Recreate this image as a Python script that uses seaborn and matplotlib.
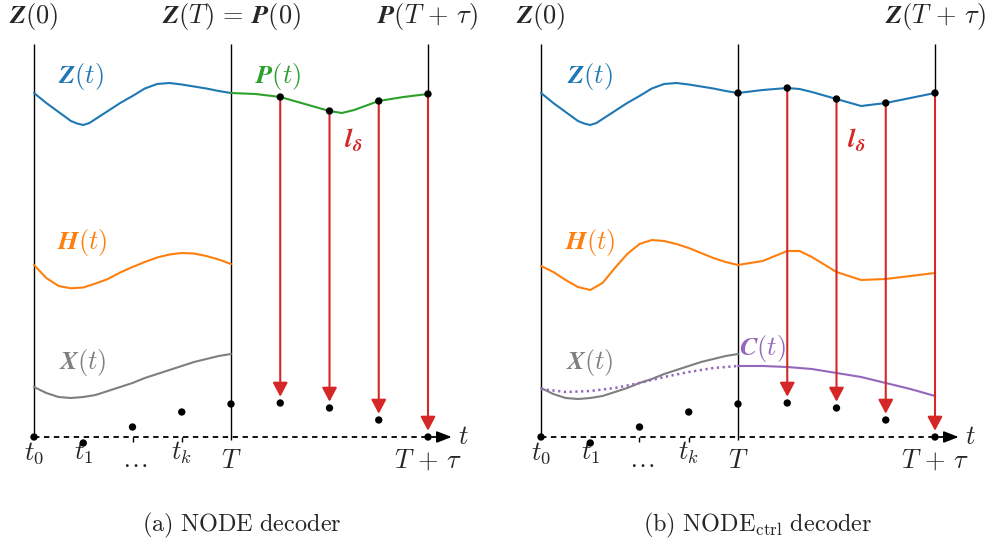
import matplotlib
matplotlib.use("Agg")
import matplotlib.pyplot as plt
import seaborn as sns

# Time grid in sample units: t0 = 0, t1 = 1, ..., T = 4, T + tau = 8
# Heights are measured upwards from the time axis
t_hist = [0, 0.25, 0.5, 0.75, 1, 1.25, 1.5, 1.75, 2, 2.25, 2.5, 2.75, 3, 3.25, 3.5, 3.75, 4]
t_z = [0, 0.25, 0.5, 0.75, 0.875, 1, 1.125, 1.25, 1.5, 1.75, 2, 2.25, 2.5, 2.75, 3, 3.25,
       3.5, 3.75, 4]
z_hist = [344, 334, 325, 316, 313.5, 312, 314, 318, 326, 334, 341, 348.5, 353, 354, 352.5,
          350.5, 348.5, 346, 344]
h_hist_a = [172, 159, 151, 148.7, 149.5, 153.5, 158, 164.5, 170, 175, 179.5, 182.5, 184, 183.5,
            181, 177.5, 173]
x_hist_a = [50, 44, 40, 39, 40, 42, 46, 50, 54, 59, 63, 67, 71, 75, 78, 81, 83]

# (a) NODE decoder: P(t) after T
t_pred = [4, 4.5, 5, 5.5, 6, 6.25, 6.5, 7, 7.5, 8]
p_pred = [344, 343, 340, 333, 326, 324, 327, 336, 340, 343]
p_dot_t = [5, 6, 7, 8]
p_dot_y = [340, 326, 336, 343]

# (b) NODE_ctrl decoder: Z(t) and H(t) go on to T + tau
t_z_full = t_z + [4.5, 5, 5.25, 5.5, 6, 6.5, 7, 7.5, 8]
z_full = z_hist + [347, 349, 348, 345, 338, 331, 334, 339, 344]
t_full = t_hist + [4.5, 5, 5.25, 5.5, 6, 6.5, 7, 7.5, 8]
h_full = [171, 165, 157, 150, 147, 154, 169, 183, 193, 197, 196, 193, 189, 184, 179, 175, 172,
          176, 186, 186, 180, 165, 157, 158, 161, 164]
x_hist_b = [49, 43, 39, 38, 39, 41, 45, 49, 54, 58, 63, 67, 71, 75, 78, 81, 83]
c_t_hist = [0, 0.5, 1, 1.5, 2, 2.5, 3, 3.5, 4]
c_hist = [48, 45, 46, 49, 54, 60, 65, 69, 71]
c_t_pred = [4, 4.5, 5, 5.5, 6, 6.5, 7, 7.5, 8]
c_pred = [71, 71, 70, 68, 64, 60, 54, 48, 41]
z_dot_t = [4, 5, 6, 7, 8]
z_dot_y = [344, 349, 338, 334, 344]

# observations on the time axis
obs_t = [0, 1, 2, 3, 4, 5, 6, 7, 8]
obs_y = [0, -6, 10, 25, 33, 34, 29, 17, 0]
pred_t = [5, 6, 7, 8]

BLUE, ORANGE, GREEN = "#1f77b4", "#ff7f0e", "#2ca02c"
RED, PURPLE, GREY = "#d62728", "#9467bd", "#7f7f7f"
FS = 19
LW = 1.5

sns.set_theme(style="white")
plt.rcParams["mathtext.fontset"] = "cm"

fig = plt.figure(figsize=(9.87, 5.42), dpi=100)
ax_a = fig.add_axes([0, 0, 0.5, 1])
ax_b = fig.add_axes([0.5, 0, 0.5, 1])


def draw_frame(ax, x0_px):
    """Common skeleton: axis lines, time axis, observations and tick labels."""
    ax.set_xlim(-x0_px / 49.25, (493.5 - x0_px) / 49.25)
    ax.set_ylim(-105, 437)
    ax.axis("off")

    # vertical lines at t0 and T
    ax.vlines([0], 0, 393, color="black", lw=1.0)
    ax.vlines([4], -3, 393, color="black", lw=1.0)

    # dashed time axis with arrow head
    sns.lineplot(x=[0, 8.25], y=[0, 0], ax=ax, color="black", lw=1.3,
                 linestyle=(0, (3, 2.5)), estimator=None)
    ax.annotate("", xy=(8.48, 0), xytext=(8.2, 0),
                arrowprops=dict(arrowstyle="-|>,head_length=0.9,head_width=0.35",
                                color="black", lw=1.2, shrinkA=0, shrinkB=0,
                                mutation_scale=10))
    ax.text(8.72, 0, r"$t$", fontsize=FS, ha="center", va="center")
    ax.vlines([2, 3], -5, 0, color="black", lw=1.0)

    sns.scatterplot(x=obs_t, y=obs_y, ax=ax, color="black", s=28,
                    edgecolor="none", zorder=6, legend=False)

    # labels under the axis
    for t, lab, base in [(0, r"$t_0$", -23), (1, r"$t_1$", -23), (2, r"$\dots$", -30),
                         (3, r"$t_k$", -23), (4, r"$T$", -31), (8, r"$T\,+\,\tau$", -31)]:
        ax.text(t, base, lab, fontsize=FS, ha="center", va="baseline")


def draw_arrows(ax, tops):
    for t, top, bot in zip(pred_t, tops, obs_y[5:]):
        ax.annotate("", xy=(t, bot), xytext=(t, top),
                    arrowprops=dict(arrowstyle="-|>,head_length=0.85,head_width=0.45",
                                    color=RED, lw=1.5, shrinkA=0, shrinkB=4.5,
                                    mutation_scale=10), zorder=4)


def curve(ax, x, y, color, lw=LW, **kw):
    sns.lineplot(x=x, y=y, ax=ax, color=color, lw=lw, estimator=None,
                 solid_joinstyle="round", **kw)


# ---------------- (a) NODE decoder ----------------
ax = ax_a
draw_frame(ax, 34)
ax.vlines([8], 343, 393, color="black", lw=1.0)
curve(ax, t_z, z_hist, BLUE)
curve(ax, t_hist, h_hist_a, ORANGE)
curve(ax, t_hist, x_hist_a, GREY)
curve(ax, t_pred, p_pred, GREEN)
draw_arrows(ax, p_dot_y)
sns.scatterplot(x=p_dot_t, y=p_dot_y, ax=ax, color="black", s=28,
                edgecolor="none", zorder=6, legend=False)

ax.text(0, 421, r"$\boldsymbol{Z}(0)$", fontsize=FS, ha="center", va="center")
ax.text(4, 421, r"$\boldsymbol{Z}(T)\,=\,\boldsymbol{P}(0)$", fontsize=FS, ha="center", va="center")
ax.text(8, 421, r"$\boldsymbol{P}(T\,+\,\tau)$", fontsize=FS, ha="center", va="center")
ax.text(0.96, 361, r"$\boldsymbol{Z}(t)$", fontsize=FS, ha="center", va="center", color=BLUE)
ax.text(4.95, 361, r"$\boldsymbol{P}(t)$", fontsize=FS, ha="center", va="center", color=GREEN)
ax.text(0.99, 195, r"$\boldsymbol{H}(t)$", fontsize=FS, ha="center", va="center", color=ORANGE)
ax.text(0.99, 75, r"$\boldsymbol{X}(t)$", fontsize=FS, ha="center", va="center", color=GREY)
ax.text(6.48, 297, r"$\boldsymbol{l}_{\boldsymbol{\delta}}$", fontsize=FS, ha="center",
        va="center", color=RED)
ax.text(4.22, -94, r"$\mathrm{(a)\ NODE\ decoder}$", fontsize=17.5, ha="center", va="baseline")

# ---------------- (b) NODE_ctrl decoder ----------------
ax = ax_b
draw_frame(ax, 47.5)
ax.vlines([8], 344, 393, color="black", lw=1.0)
curve(ax, t_z_full, z_full, BLUE)
curve(ax, t_full, h_full, ORANGE)
curve(ax, t_hist, x_hist_b, GREY)
curve(ax, c_t_hist, c_hist, PURPLE, lw=1.8, linestyle=(0, (0.9, 1.4)))
curve(ax, c_t_pred, c_pred, PURPLE)
draw_arrows(ax, z_dot_y[1:])
sns.scatterplot(x=z_dot_t, y=z_dot_y, ax=ax, color="black", s=28,
                edgecolor="none", zorder=6, legend=False)

ax.text(0, 421, r"$\boldsymbol{Z}(0)$", fontsize=FS, ha="center", va="center")
ax.text(8, 421, r"$\boldsymbol{Z}(T\,+\,\tau)$", fontsize=FS, ha="center", va="center")
ax.text(1.0, 361, r"$\boldsymbol{Z}(t)$", fontsize=FS, ha="center", va="center", color=BLUE)
ax.text(1.0, 195, r"$\boldsymbol{H}(t)$", fontsize=FS, ha="center", va="center", color=ORANGE)
ax.text(0.99, 75, r"$\boldsymbol{X}(t)$", fontsize=FS, ha="center", va="center", color=GREY)
ax.text(4.5, 89, r"$\boldsymbol{C}(t)$", fontsize=FS, ha="center", va="center", color=PURPLE)
ax.text(6.4, 297, r"$\boldsymbol{l}_{\boldsymbol{\delta}}$", fontsize=FS, ha="center",
        va="center", color=RED)
ax.text(4.4, -94, r"$\mathrm{(b)\ NODE_{ctrl}\ decoder}$", fontsize=17.5, ha="center",
        va="baseline")

fig.savefig("out.png", dpi=100)
